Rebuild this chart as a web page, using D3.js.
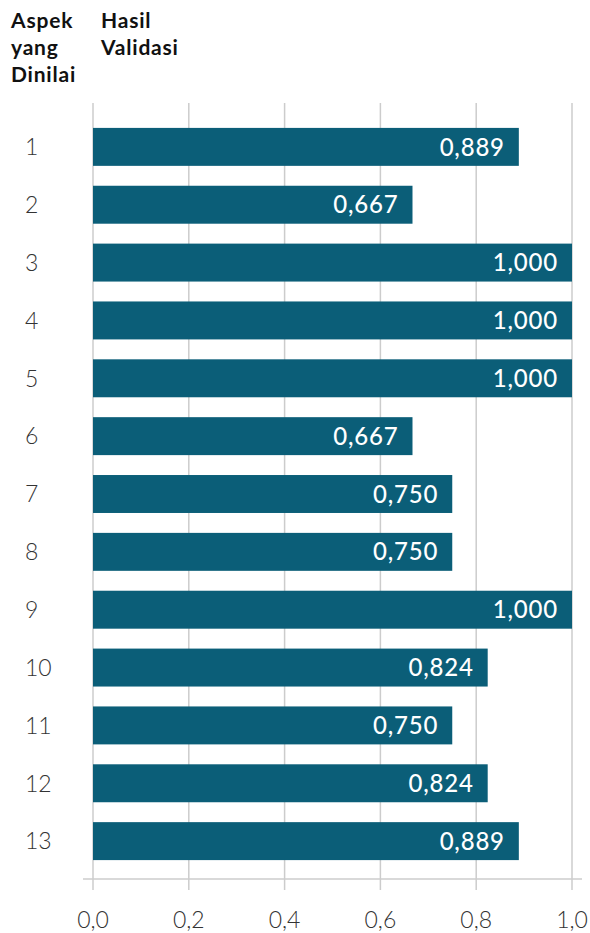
<!DOCTYPE html>
<html><head><meta charset="utf-8">
<script src="https://cdn.jsdelivr.net/npm/d3@7"></script>
<style>
body{margin:0;background:#fff;}
svg{display:block;font-family:Lato, "Open Sans", sans-serif;}
</style></head>
<body><svg id="chart" width="590" height="933"></svg>
<script>
const categories = ["1","2","3","4","5","6","7","8","9","10","11","12","13"];
const values = [0.889,0.667,1.000,1.000,1.000,0.667,0.750,0.750,1.000,0.824,0.750,0.824,0.889];
const valueLabels = ["0,889","0,667","1,000","1,000","1,000","0,667","0,750","0,750","1,000","0,824","0,750","0,824","0,889"];
const tickValues = [0,0.2,0.4,0.6,0.8,1.0];
const tickLabels = ["0,0","0,2","0,4","0,6","0,8","1,0"];
const headerLeft = ["Aspek","yang","Dinilai"];
const headerRight = ["Hasil","Validasi"];

const svg = d3.select("#chart");
const x = d3.scaleLinear().domain([0,1]).range([93,572]);
const y = d3.scaleBand().domain(categories).range([108,880]).paddingInner(0.344).paddingOuter(0.344);

// gridlines
svg.append("g").selectAll("line").data(tickValues).join("line")
  .attr("x1",d=>x(d)).attr("x2",d=>x(d)).attr("y1",103).attr("y2",890)
  .attr("stroke","#cccccc").attr("stroke-width",1.5);
// axis baseline
svg.append("line").attr("x1",83).attr("x2",582).attr("y1",879).attr("y2",879)
  .attr("stroke","#cccccc").attr("stroke-width",1.5);

// bars
svg.append("g").selectAll("rect").data(values).join("rect")
  .attr("x",x(0)).attr("y",(d,i)=>y(categories[i]))
  .attr("width",d=>x(d)-x(0)).attr("height",y.bandwidth())
  .attr("fill","#0b5e78");

// value labels
svg.append("g").selectAll("text").data(values).join("text")
  .attr("x",d=>x(d)-14).attr("y",(d,i)=>y(categories[i])+y.bandwidth()/2)
  .attr("dy","0.36em").attr("text-anchor","end")
  .attr("fill","#ffffff").attr("font-size",24).attr("font-weight",500)
  .attr("letter-spacing",0.8)
  .text((d,i)=>valueLabels[i]);

// category labels
svg.append("g").selectAll("text").data(categories).join("text")
  .attr("x",25).attr("y",d=>y(d)+y.bandwidth()/2)
  .attr("dy","0.36em").attr("fill","#333333").attr("font-size",23).attr("font-weight",300)
  .text(d=>d);

// tick labels
svg.append("g").selectAll("text").data(tickValues).join("text")
  .attr("x",d=>x(d)).attr("y",928).attr("text-anchor","middle")
  .attr("fill","#333333").attr("font-size",23).attr("font-weight",300)
  .text((d,i)=>tickLabels[i]);

// headers
svg.append("text").attr("font-size",21).attr("font-weight",700).attr("fill","#111")
  .attr("letter-spacing",0.8)
  .selectAll("tspan").data(headerLeft).join("tspan")
  .attr("x",11).attr("y",(d,i)=>28+i*27).text(d=>d);
svg.append("text").attr("font-size",21).attr("font-weight",700).attr("fill","#111")
  .attr("letter-spacing",0.8)
  .selectAll("tspan").data(headerRight).join("tspan")
  .attr("x",101).attr("y",(d,i)=>28+i*27).text(d=>d);
</script></body></html>
